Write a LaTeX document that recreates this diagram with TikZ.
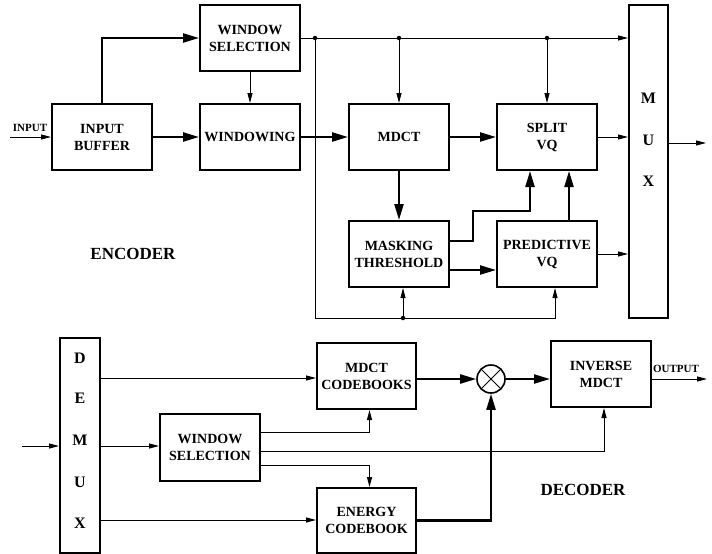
\documentclass[tikz,border=0pt]{standalone}
\usepackage{fontspec}
\setmainfont{Liberation Serif}
\usetikzlibrary{%
  arrows.meta,%
  calc%
}

\begin{document}
\begin{tikzpicture}[x=1pt,y=-1pt,
  blk/.style={draw,line width=2pt,minimum width=100,minimum height=66,inner sep=1pt,align=center,font=\fontsize{14}{17}\selectfont\bfseries},
  bar/.style={draw,line width=2pt,inner sep=0pt},
  ltr/.style={font=\fontsize{16}{18}\selectfont\bfseries},
  tag/.style={font=\fontsize{11}{13}\selectfont\bfseries},
  ttl/.style={font=\fontsize{17}{20}\selectfont\bfseries},
  ln/.style={line width=1pt},
  thn/.style={ln,-{Triangle[length=10pt,width=5pt]}},
  thk/.style={line width=2.2pt,-{Triangle[length=16pt,width=9pt]}},
  dot/.style={circle,fill,inner sep=0pt,minimum size=4.5pt}]
\useasboundingbox (0,0) rectangle (712,554);

% encoder
\node[blk] (buf) at (102,137) {INPUT\\BUFFER};
\node[blk] (wsel) at (250,38) {WINDOW\\SELECTION};
\node[blk] (win) at (250,137) {WINDOWING};
\node[blk] (mdct) at (399,137) {MDCT};
\node[blk] (split) at (547,137) {SPLIT\\VQ};
\node[blk] (mask) at (399,254) {MASKING\\THRESHOLD};
\node[blk] (pvq) at (547,254) {PREDICTIVE\\VQ};
\node[bar,minimum width=39,minimum height=313] (mux) at (648.5,161.5) {};
\node[ltr] (muxM) at (648.5,98) {M};
\node[ltr] (muxU) at (648.5,140) {U};
\node[ltr] (muxX) at (648.5,181) {X};
\node[ttl] (enc) at (133,254) {ENCODER};

\coordinate (ein) at (10,137);
\node[tag] (einlab) at (30,128) {INPUT};
\draw[thn] (ein) -- (ein -| buf.west);
\draw[thk] (buf.north) |- (wsel.west);
\draw[thk] (buf.east) -- (win.west);
\draw[thn] (wsel.south) -- (win.north);

% top bus
\node[dot] (j1) at (315,38) {};
\node[dot] (j2) at (399,38) {};
\node[dot] (j3) at (547,38) {};
\draw[thn] (wsel.east) -- (wsel.east -| mux.west);
\draw[thn] (j2) -- (mdct.north);
\draw[thn] (j3) -- (split.north);

% bottom loop
\coordinate (lp) at (315,318);
\node[dot] (j4) at (403,318) {};
\draw[thn] (j1) -- (lp) -| ($(pvq.south)+(8,0)$);
\draw[thn] (j4) -- (j4 |- mask.south);

\draw[thk] (win.east) -- (mdct.west);
\draw[thk] (mdct.east) -- (split.west);
\draw[thn] (split.east) -- (split.east -| mux.west);
\draw[thk] (mdct.south) -- (mask.north);
\draw[thk] ($(mask.east)+(0,-13)$) -- ++(23,0) -- ++(0,-30) -| ($(split.south)+(-17,0)$);
\draw[thk] ($(pvq.north)+(22,0)$) -- ($(split.south)+(22,0)$);
\draw[thk] ($(mask.east)+(0,16)$) -- ($(pvq.west)+(0,16)$);
\draw[thn] (pvq.east) -- (pvq.east -| mux.west);
\coordinate (eout) at (706,143);
\draw[thn] (eout -| mux.east) -- (eout);

% decoder
\node[bar,minimum width=40,minimum height=215] (demux) at (80,445.5) {};
\foreach \l/\y in {D/358,E/398,M/440,U/482,X/523}
  \node[ltr] (demux\l) at (80,\y) {\l};
\node[blk,minimum height=67] (dwsel) at (210,447.5) {WINDOW\\SELECTION};
\node[blk,minimum width=99] (mcb) at (366.5,376) {MDCT\\CODEBOOKS};
\node[blk,minimum width=99,minimum height=65] (ecb) at (366.5,520.5) {ENERGY\\CODEBOOK};
\node[draw,circle,line width=1.6pt,minimum size=28pt,inner sep=0pt,
  path picture={\draw[line width=1pt] (path picture bounding box.north west) -- (path picture bounding box.south east)
  (path picture bounding box.north east) -- (path picture bounding box.south west);}] (mult) at (491,379) {};
\node[blk] (imdct) at (601,374) {INVERSE\\MDCT};
\node[ttl] (dec) at (583,490) {DECODER};

\coordinate (din) at (22,446);
\draw[thn] (din) -- (din -| demux.west);
\draw[thn] (demux.east |- din) -- (din -| dwsel.west);
\draw[thn] (demux.east |- 0,378) -- (mcb.west |- 0,378);
\draw[thn] (demux.east |- 0,520) -- (ecb.west |- 0,520);
\draw[thn] ($(dwsel.east)+(0,-15)$) -| ($(mcb.south)+(3,0)$);
\draw[thn] ($(dwsel.east)+(0,4)$) -| ($(imdct.south)+(3,0)$);
\draw[thn] ($(dwsel.east)+(0,18)$) -| ($(ecb.north)+(3,0)$);
\draw[thk] (mcb.east |- mult) -- (mult);
\draw[thk] (mult) -- (mult -| imdct.west);
\draw[thk] (ecb.east) -| (mult.south);
\coordinate (dout) at (707,379);
\node[tag] (doutlab) at (676,369) {OUTPUT};
\draw[thn] (dout -| imdct.east) -- (dout);
\end{tikzpicture}
\end{document}
